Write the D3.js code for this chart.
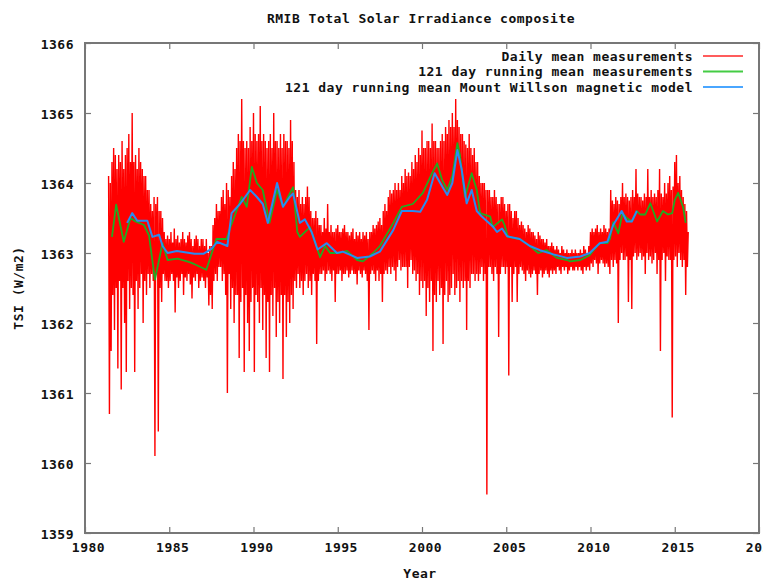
<!DOCTYPE html>
<html>
<head>
<meta charset="utf-8">
<script src="https://cdn.jsdelivr.net/npm/d3@7"></script>
<style>
  html, body { margin: 0; padding: 0; background: #fff; overflow: hidden; }
  svg { display: block; }
  text { font-family: "DejaVu Sans Mono", "Liberation Mono", monospace; font-weight: bold; font-size: 13px; letter-spacing: 0.5px; fill: #111; }
</style>
</head>
<body>
<svg id="chart" width="763" height="581"></svg>
<script>
// Axis ticks
const yearTicks = [1980, 1985, 1990, 1995, 2000, 2005, 2010, 2015, 2020];
const tsiTicks = [1359, 1360, 1361, 1362, 1363, 1364, 1365, 1366];

// Daily mean measurements (W/m2), one sample every 0.05 year from 1981.4
const dailyStart = 1981.4;
const dailyStep = 0.05;
const dailyMean = [
  // 1981 (from 1981.40)
  1364.1, 1360.7, 1364.0, 1361.6, 1364.3, 1362.4, 1364.5, 1361.9, 1364.4, 1362.5, 1364.2, 1361.35,
  // 1982
  1364.4, 1362.6, 1364.3, 1361.05, 1364.6, 1362.5, 1364.2, 1362.0, 1364.4, 1361.3,
  1364.5, 1362.6, 1364.7, 1362.2, 1364.3, 1362.5, 1365.0, 1362.4, 1364.3, 1361.3,
  // 1983
  1364.4, 1362.6, 1364.2, 1362.2, 1364.5, 1362.5, 1364.3, 1362.7, 1364.2, 1362.0,
  1364.1, 1362.6, 1364.1, 1362.4, 1363.9, 1362.7, 1363.9, 1362.5, 1363.7, 1362.7,
  // 1984
  1363.6, 1362.6, 1363.8, 1360.1, 1363.7, 1362.7, 1363.8, 1360.45, 1363.6, 1362.5,
  1363.6, 1362.3, 1363.5, 1362.7, 1363.3, 1362.6, 1363.2, 1362.6, 1363.25, 1362.5,
  // 1985
  1363.2, 1362.6, 1363.3, 1362.7, 1363.15, 1362.6, 1363.35, 1362.15, 1363.2, 1362.65,
  1363.25, 1362.5, 1363.15, 1362.6, 1363.2, 1362.7, 1363.3, 1362.4, 1363.2, 1362.65,
  // 1986
  1363.15, 1362.6, 1363.25, 1362.7, 1363.3, 1362.55, 1363.2, 1362.35, 1363.1, 1362.65,
  1363.2, 1362.6, 1363.25, 1362.7, 1363.2, 1362.5, 1363.1, 1362.6, 1363.2, 1362.65,
  // 1987
  1363.2, 1362.6, 1363.1, 1362.5, 1363.2, 1362.65, 1363.0, 1362.25, 1363.1, 1362.4,
  1363.1, 1362.2, 1363.4, 1362.6, 1363.5, 1362.7, 1363.7, 1362.6, 1363.6, 1362.8,
  // 1988
  1363.6, 1362.8, 1363.8, 1362.6, 1363.9, 1362.7, 1363.7, 1362.4, 1364.0, 1361.0,
  1363.9, 1362.7, 1363.8, 1362.2, 1364.1, 1362.5, 1364.3, 1362.0, 1364.2, 1362.4,
  // 1989
  1364.5, 1362.4, 1364.7, 1361.5, 1364.6, 1362.3, 1365.2, 1362.5, 1364.6, 1361.3,
  1364.5, 1362.4, 1364.6, 1362.0, 1364.5, 1361.6, 1364.8, 1362.3, 1364.6, 1362.5,
  // 1990
  1365.0, 1361.3, 1364.7, 1362.4, 1364.6, 1362.3, 1364.7, 1362.0, 1365.1, 1362.5,
  1364.6, 1361.9, 1364.7, 1362.4, 1364.6, 1361.5, 1364.5, 1362.3, 1364.6, 1361.3,
  // 1991
  1364.7, 1362.4, 1364.5, 1362.1, 1365.0, 1362.5, 1364.6, 1361.8, 1364.6, 1362.3,
  1364.5, 1362.0, 1364.7, 1362.4, 1364.5, 1361.2, 1364.7, 1362.4, 1364.6, 1361.8,
  // 1992
  1364.6, 1362.3, 1364.5, 1362.0, 1364.9, 1362.4, 1364.6, 1362.2, 1364.3, 1362.6,
  1363.9, 1362.5, 1363.8, 1362.7, 1363.9, 1362.5, 1363.7, 1362.6, 1363.8, 1362.4,
  // 1993
  1363.7, 1362.6, 1363.8, 1362.7, 1363.95, 1362.5, 1363.8, 1362.6, 1363.6, 1362.4,
  1363.5, 1362.7, 1363.5, 1362.6, 1363.6, 1361.7, 1363.5, 1362.6, 1363.4, 1362.7,
  // 1994
  1363.4, 1362.7, 1363.3, 1362.75, 1363.5, 1362.6, 1363.35, 1362.7, 1363.7, 1362.75,
  1363.3, 1362.7, 1363.4, 1362.6, 1363.3, 1362.75, 1363.3, 1362.3, 1363.35, 1362.7,
  // 1995
  1363.4, 1362.7, 1363.3, 1362.75, 1363.3, 1362.6, 1363.35, 1362.7, 1363.4, 1362.7,
  1363.3, 1362.75, 1363.3, 1362.65, 1363.25, 1362.7, 1363.3, 1362.75, 1363.35, 1362.7,
  // 1996
  1363.2, 1362.7, 1363.3, 1362.55, 1363.25, 1362.75, 1363.3, 1362.7, 1363.2, 1362.65,
  1363.3, 1362.75, 1363.25, 1362.7, 1363.3, 1362.6, 1363.2, 1361.9, 1363.3, 1362.7,
  // 1997
  1363.3, 1362.75, 1363.4, 1362.7, 1363.35, 1362.6, 1363.4, 1362.75, 1363.45, 1362.6,
  1363.5, 1362.7, 1363.4, 1362.3, 1363.6, 1362.7, 1363.7, 1362.75, 1363.6, 1362.7,
  // 1998
  1363.8, 1362.8, 1363.9, 1362.7, 1363.85, 1362.8, 1363.9, 1362.75, 1364.0, 1362.6,
  1363.9, 1362.8, 1364.0, 1362.9, 1363.9, 1362.75, 1364.1, 1362.8, 1364.0, 1362.8,
  // 1999
  1364.2, 1362.8, 1364.1, 1362.5, 1364.15, 1362.8, 1364.1, 1362.9, 1364.3, 1362.7,
  1364.2, 1362.75, 1364.4, 1362.6, 1364.3, 1362.7, 1364.5, 1362.4, 1364.4, 1362.6,
  // 2000
  1364.75, 1362.5, 1364.5, 1362.6, 1364.5, 1362.1, 1364.6, 1362.5, 1364.6, 1362.3,
  1364.5, 1362.6, 1364.85, 1361.6, 1364.6, 1362.4, 1364.6, 1362.3, 1364.5, 1362.6,
  // 2001
  1364.5, 1362.4, 1364.6, 1362.5, 1364.7, 1361.7, 1364.6, 1362.4, 1364.8, 1362.6,
  1364.7, 1362.3, 1364.9, 1362.4, 1364.8, 1362.5, 1365.0, 1362.7, 1364.8, 1362.4,
  // 2002
  1365.2, 1362.5, 1364.9, 1362.6, 1364.8, 1362.3, 1364.7, 1362.6, 1364.7, 1362.5,
  1364.6, 1362.6, 1364.55, 1361.9, 1364.5, 1362.6, 1364.7, 1362.5, 1364.5, 1362.7,
  // 2003
  1364.4, 1362.7, 1364.5, 1362.6, 1364.3, 1362.7, 1364.3, 1362.6, 1364.1, 1362.7,
  1364.0, 1362.8, 1364.0, 1362.6, 1364.0, 1362.7, 1363.9, 1359.55, 1363.9, 1362.8,
  // 2004
  1363.9, 1362.8, 1363.8, 1362.7, 1363.8, 1362.6, 1363.9, 1362.8, 1363.8, 1362.7,
  1363.7, 1361.8, 1363.7, 1362.7, 1363.8, 1362.8, 1363.8, 1362.8, 1363.7, 1362.7,
  // 2005
  1363.6, 1362.8, 1363.7, 1361.25, 1363.7, 1362.8, 1363.6, 1362.3, 1363.5, 1362.7,
  1363.6, 1362.8, 1363.6, 1362.3, 1363.5, 1362.7, 1363.4, 1362.8, 1363.45, 1362.75,
  // 2006
  1363.4, 1362.7, 1363.35, 1362.6, 1363.3, 1362.75, 1363.4, 1362.7, 1363.35, 1362.65,
  1363.3, 1362.7, 1363.3, 1362.75, 1363.25, 1362.7, 1363.2, 1362.4, 1363.3, 1362.7,
  // 2007
  1363.25, 1362.75, 1363.2, 1362.65, 1363.2, 1362.7, 1363.15, 1362.75, 1363.2, 1362.7,
  1363.1, 1362.65, 1363.1, 1362.75, 1363.15, 1362.7, 1363.1, 1362.75, 1363.05, 1362.7,
  // 2008
  1363.1, 1362.8, 1363.05, 1362.75, 1363.0, 1362.7, 1363.1, 1362.8, 1363.05, 1362.75,
  1363.0, 1362.8, 1363.05, 1362.7, 1363.0, 1362.75, 1363.0, 1362.8, 1363.05, 1362.75,
  // 2009
  1363.0, 1362.75, 1363.05, 1362.8, 1363.0, 1362.75, 1363.0, 1362.8, 1363.05, 1362.75,
  1363.0, 1362.7, 1363.1, 1362.8, 1363.05, 1362.75, 1363.0, 1362.8, 1363.1, 1362.75,
  // 2010
  1363.3, 1362.85, 1363.35, 1362.8, 1363.3, 1362.9, 1363.35, 1362.85, 1363.4, 1362.7,
  1363.3, 1362.85, 1363.35, 1362.9, 1363.3, 1362.85, 1363.4, 1362.8, 1363.35, 1362.85,
  // 2011
  1363.3, 1362.8, 1363.35, 1362.7, 1363.9, 1362.9, 1363.75, 1362.8, 1363.7, 1362.9,
  1363.8, 1362.85, 1363.75, 1362.0, 1363.7, 1362.9, 1363.8, 1363.0, 1364.0, 1362.9,
  // 2012
  1363.8, 1362.9, 1363.85, 1362.95, 1363.8, 1362.3, 1363.75, 1362.9, 1363.8, 1362.2,
  1363.9, 1362.95, 1363.8, 1363.0, 1364.2, 1362.9, 1363.85, 1362.95, 1363.8, 1363.0,
  // 2013
  1363.8, 1362.9, 1363.75, 1362.95, 1363.85, 1362.7, 1363.8, 1363.0, 1364.2, 1362.9,
  1363.8, 1362.95, 1363.9, 1362.85, 1363.8, 1362.9, 1363.85, 1363.0, 1363.8, 1362.7,
  // 2014
  1363.9, 1362.9, 1364.2, 1361.6, 1363.85, 1362.9, 1363.8, 1363.0, 1364.0, 1362.6,
  1363.85, 1362.95, 1364.0, 1362.9, 1364.1, 1362.9, 1363.9, 1360.65, 1363.95, 1362.9,
  // 2015 (to 2015.80)
  1364.3, 1362.95, 1364.4, 1362.8, 1364.0, 1363.0, 1364.1, 1362.9, 1363.9, 1362.8,
  1363.8, 1362.9, 1363.7, 1362.4, 1363.6, 1362.8, 1363.3
];

// 121 day running mean of the measurements
const measYears = [
  1981.6, 1981.85, 1982.3, 1982.7, 1983.0, 1983.5, 1983.8, 1984.15, 1984.6, 1984.9,
  1985.5, 1986.2, 1986.5, 1987.2, 1987.8, 1988.4, 1988.6, 1989.3, 1989.6, 1989.9,
  1990.2, 1990.55, 1990.95, 1991.4, 1991.75, 1992.05, 1992.35, 1992.6, 1992.75, 1993.35,
  1993.95, 1994.25, 1994.55, 1995.1, 1995.55, 1996.15, 1996.5, 1997.1, 1997.5, 1998.3,
  1998.8, 1999.45, 2000.05, 2000.6, 2000.9, 2001.2, 2001.5, 2001.8, 2002.1, 2002.25,
  2002.55, 2002.95, 2003.25, 2003.45, 2004.05, 2004.2, 2004.75, 2004.9, 2005.1, 2005.8,
  2006.4, 2006.9, 2007.4, 2008.0, 2008.6, 2008.8, 2009.4, 2009.95, 2010.15, 2010.55,
  2011.0, 2011.15, 2011.35, 2011.65, 2011.9, 2012.15, 2012.45, 2012.75, 2012.95, 2013.25,
  2013.55, 2013.95, 2014.3, 2014.6, 2014.85, 2015.0, 2015.2, 2015.5, 2015.65
];
const measMean = [
  1363.23, 1363.69, 1363.16, 1363.5, 1363.45, 1363.4, 1363.25, 1362.62, 1363.14, 1362.9,
  1362.92, 1362.87, 1362.84, 1362.76, 1363.2, 1363.2, 1363.35, 1363.8, 1363.66, 1364.23,
  1364.0, 1363.9, 1363.43, 1363.9, 1363.66, 1363.8, 1363.94, 1363.3, 1363.23, 1363.37,
  1362.94, 1363.1, 1363.0, 1363.0, 1363.03, 1362.9, 1362.88, 1363.0, 1363.1, 1363.43,
  1363.66, 1363.7, 1363.86, 1364.14, 1364.28, 1364.04, 1363.9, 1364.1, 1364.57, 1364.4,
  1363.8, 1364.14, 1363.9, 1363.57, 1363.52, 1363.37, 1363.48, 1363.4, 1363.23, 1363.2,
  1363.1, 1363.0, 1363.04, 1362.93, 1362.9, 1362.88, 1362.9, 1362.97, 1363.03, 1363.14,
  1363.14, 1363.2, 1363.44, 1363.28, 1363.57, 1363.5, 1363.45, 1363.6, 1363.55, 1363.55,
  1363.71, 1363.45, 1363.6, 1363.55, 1363.57, 1363.76, 1363.86, 1363.65, 1363.43
];

// 121 day running mean of the Mount Wilson magnetic model
const modelYears = [
  1982.5, 1982.8, 1983.1, 1983.7, 1984.0, 1984.4, 1984.6, 1984.9, 1985.45, 1986.5,
  1987.05, 1987.5, 1987.85, 1988.45, 1988.7, 1989.2, 1989.8, 1990.2, 1990.55, 1990.85,
  1991.4, 1991.75, 1992.15, 1992.35, 1992.75, 1993.05, 1993.45, 1993.8, 1994.35, 1994.95,
  1995.3, 1996.15, 1996.9, 1997.5, 1998.3, 1998.8, 1999.45, 1999.9, 2000.3, 2000.75,
  2001.2, 2001.5, 2001.8, 2002.1, 2002.35, 2002.65, 2002.95, 2003.25, 2003.55, 2004.2,
  2004.45, 2004.75, 2005.05, 2005.8, 2006.4, 2007.0, 2007.8, 2008.6, 2009.4, 2009.95,
  2010.55, 2011.0, 2011.35, 2011.85, 2012.15, 2012.45, 2012.75
];
const modelMean = [
  1363.43, 1363.57, 1363.46, 1363.46, 1363.23, 1363.26, 1363.1, 1363.0, 1363.03, 1362.99,
  1362.99, 1363.06, 1363.16, 1363.1, 1363.57, 1363.7, 1363.9, 1363.8, 1363.7, 1363.43,
  1364.0, 1363.66, 1363.8, 1363.85, 1363.43, 1363.48, 1363.3, 1363.05, 1363.14, 1363.0,
  1363.02, 1362.93, 1362.95, 1363.02, 1363.33, 1363.6, 1363.6, 1363.59, 1363.76, 1364.14,
  1363.95, 1363.83, 1364.0, 1364.47, 1364.2, 1363.71, 1363.9, 1363.6, 1363.52, 1363.38,
  1363.3, 1363.35, 1363.24, 1363.2, 1363.1, 1363.04, 1362.98, 1362.93, 1362.95, 1363.0,
  1363.14, 1363.16, 1363.4, 1363.6, 1363.45, 1363.45, 1363.6
];

const seriesLabels = [
  "Daily mean measurements",
  "121 day running mean measurements",
  "121 day running mean Mount Willson magnetic model"
];
const seriesColors = ["#ff0000", "#22aa22", "#2a8cf0"];
const legendColors = ["#ff5c5c", "#44cc44", "#4aa6ff"];

const svg = d3.select("#chart");
const margin = { left: 85, right: 759, top: 43, bottom: 533 };

const x = d3.scaleLinear().domain([1980, 2020]).range([margin.left, margin.right]);
const y = d3.scaleLinear().domain([1359, 1366]).range([margin.bottom, margin.top]);

// Title
svg.append("text")
  .attr("x", 421).attr("y", 23)
  .attr("text-anchor", "middle")
  .text("RMIB Total Solar Irradiance composite");

// Clip the series to the plot box
svg.append("clipPath").attr("id", "plotClip")
  .append("rect")
  .attr("x", margin.left).attr("y", margin.top)
  .attr("width", margin.right - margin.left).attr("height", margin.bottom - margin.top);

const plot = svg.append("g").attr("clip-path", "url(#plotClip)");

const dailyLine = d3.line()
  .x((d, i) => x(dailyStart + i * dailyStep))
  .y(d => y(d));

plot.append("path")
  .datum(dailyMean)
  .attr("d", dailyLine)
  .attr("fill", "none")
  .attr("stroke", seriesColors[0])
  .attr("stroke-width", 1.4)
  .attr("stroke-linejoin", "bevel");

const pairLine = d3.line()
  .x(d => x(d[0]))
  .y(d => y(d[1]));

plot.append("path")
  .datum(d3.zip(measYears, measMean))
  .attr("d", pairLine)
  .attr("fill", "none")
  .attr("stroke", seriesColors[1])
  .attr("stroke-width", 1.8)
  .attr("stroke-linejoin", "round");

plot.append("path")
  .datum(d3.zip(modelYears, modelMean))
  .attr("d", pairLine)
  .attr("fill", "none")
  .attr("stroke", seriesColors[2])
  .attr("stroke-width", 2)
  .attr("stroke-linejoin", "round");

// Axes: inward ticks on all four sides, labels on left and bottom
const frameColor = "#777";
const styleAxis = g => {
  g.select(".domain").remove();
  g.selectAll(".tick line").attr("stroke", frameColor).attr("stroke-width", 1.2);
  g.selectAll(".tick text").attr("fill", "#111");
};

svg.append("g")
  .attr("transform", `translate(${margin.left},0)`)
  .call(d3.axisLeft(y).tickValues(tsiTicks).tickFormat(d3.format("d")).tickSizeInner(-6).tickSizeOuter(0).tickPadding(11))
  .call(styleAxis)
  .call(g => g.selectAll("text").attr("dy", "0.42em"));

svg.append("g")
  .attr("transform", `translate(${margin.right},0)`)
  .call(d3.axisRight(y).tickValues(tsiTicks).tickFormat("").tickSizeInner(-6).tickSizeOuter(0))
  .call(styleAxis);

svg.append("g")
  .attr("transform", `translate(0,${margin.bottom})`)
  .call(d3.axisBottom(x).tickValues(yearTicks).tickFormat(d3.format("d")).tickSizeInner(-6).tickSizeOuter(0).tickPadding(10))
  .call(styleAxis)
  .call(g => g.selectAll("text").attr("dx", 3));

svg.append("g")
  .attr("transform", `translate(0,${margin.top})`)
  .call(d3.axisTop(x).tickValues(yearTicks).tickFormat("").tickSizeInner(-6).tickSizeOuter(0))
  .call(styleAxis);

// Plot frame
svg.append("rect")
  .attr("x", margin.left).attr("y", margin.top)
  .attr("width", margin.right - margin.left).attr("height", margin.bottom - margin.top)
  .attr("fill", "none")
  .attr("stroke", frameColor)
  .attr("stroke-width", 2);

// Axis titles
svg.append("text")
  .attr("x", 420).attr("y", 578)
  .attr("text-anchor", "middle")
  .text("Year");

svg.append("text")
  .attr("transform", "translate(23,288) rotate(-90)")
  .attr("text-anchor", "middle")
  .text("TSI (W/m2)");

// Legend, top right inside the plot
const legend = svg.append("g");
seriesLabels.forEach((label, i) => {
  const cy = 56 + i * 15.5;
  legend.append("text")
    .attr("x", 693).attr("y", cy)
    .attr("dy", "0.36em")
    .attr("text-anchor", "end")
    .text(label);
  legend.append("line")
    .attr("x1", 703).attr("x2", 743)
    .attr("y1", cy).attr("y2", cy)
    .attr("stroke", legendColors[i])
    .attr("stroke-width", 2);
});
</script>
</body>
</html>
